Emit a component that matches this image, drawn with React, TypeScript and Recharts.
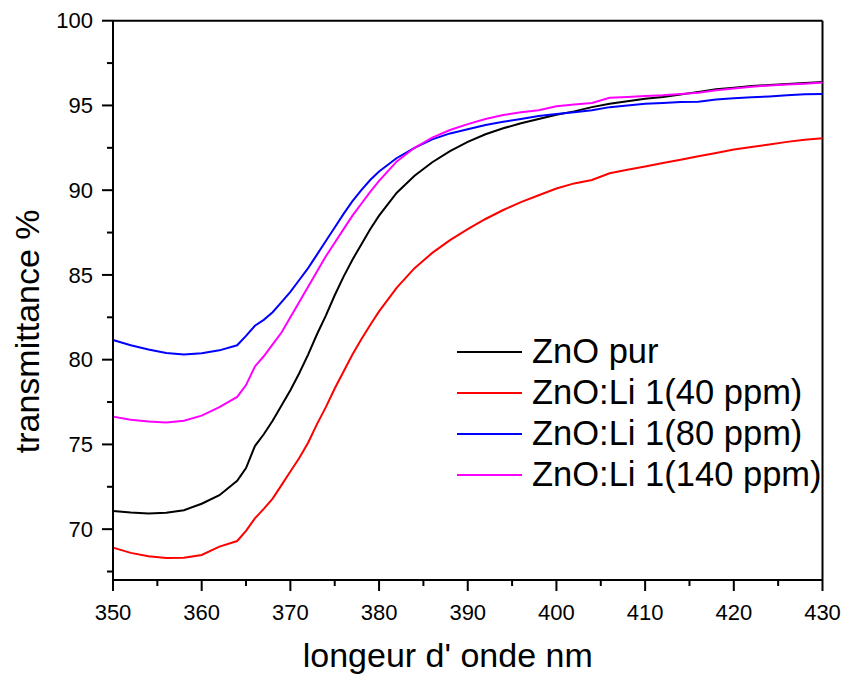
import { LineChart, Line, XAxis, YAxis, ReferenceLine, Label } from 'recharts';

const FONT = '"Liberation Sans", Arial, Helvetica, sans-serif';

// wavelength (nm)
const wavelengths = [
  350, 352, 354, 356, 358, 360, 362, 364, 365, 366, 367, 368, 369, 370, 371, 372, 373, 374, 375,
  376, 377, 378, 379, 380, 382, 384, 386, 388, 390, 392, 394, 396, 398, 400, 402, 404, 406, 408,
  410, 412, 414, 416, 418, 420, 422, 424, 426, 428, 430,
];

// transmittance %
const znoPur = [
  71.07, 70.98, 70.92, 70.97, 71.12, 71.5, 72.0, 72.85, 73.6, 74.9, 75.6, 76.4, 77.3, 78.2, 79.2,
  80.3, 81.5, 82.6, 83.8, 84.9, 85.9, 86.8, 87.7, 88.5, 89.85, 90.85, 91.65, 92.3, 92.85, 93.3, 93.65,
  93.95, 94.2, 94.45, 94.65, 94.9, 95.1, 95.25, 95.4, 95.5, 95.65, 95.8, 95.95, 96.05, 96.15, 96.2,
  96.27, 96.33, 96.38,
];

const li40 = [
  68.91, 68.6, 68.4, 68.3, 68.32, 68.48, 68.97, 69.3, 69.9, 70.64, 71.2, 71.8, 72.6, 73.4, 74.2,
  75.1, 76.2, 77.2, 78.3, 79.3, 80.3, 81.2, 82.05, 82.85, 84.25, 85.4, 86.3, 87.05, 87.7, 88.3, 88.83,
  89.3, 89.7, 90.1, 90.4, 90.6, 91.0, 91.2, 91.4, 91.6, 91.8, 92.0, 92.2, 92.4, 92.55, 92.7, 92.85,
  92.98, 93.06,
];

const li80 = [
  81.16, 80.85, 80.6, 80.4, 80.3, 80.38, 80.55, 80.85, 81.4, 82.0, 82.35, 82.8, 83.4, 84.0, 84.7,
  85.4, 86.2, 87.0, 87.8, 88.6, 89.35, 90.0, 90.6, 91.1, 91.9, 92.5, 93.0, 93.35, 93.6, 93.85, 94.04,
  94.2, 94.38, 94.5, 94.6, 94.72, 94.9, 95.0, 95.1, 95.15, 95.2, 95.22, 95.35, 95.42, 95.48, 95.53,
  95.6, 95.66, 95.68,
];

const li140 = [
  76.64, 76.45, 76.35, 76.3, 76.4, 76.7, 77.2, 77.8, 78.5, 79.6, 80.2, 80.9, 81.6, 82.5, 83.4, 84.3,
  85.2, 86.1, 86.9, 87.7, 88.5, 89.2, 89.9, 90.55, 91.7, 92.5, 93.1, 93.55, 93.9, 94.2, 94.44, 94.6,
  94.72, 94.95, 95.05, 95.15, 95.45, 95.5, 95.55, 95.6, 95.68, 95.75, 95.9, 96.0, 96.1, 96.18, 96.23,
  96.28, 96.35,
];

const xTicks = [350, 355, 360, 365, 370, 375, 380, 385, 390, 395, 400, 405, 410, 415, 420, 425, 430];
const yTicks = [67.5, 70, 72.5, 75, 77.5, 80, 82.5, 85, 87.5, 90, 92.5, 95, 97.5, 100];

const series = [
  { key: 'zno', name: 'ZnO pur', color: '#000000' },
  { key: 'li40', name: 'ZnO:Li 1(40 ppm)', color: '#ff0000' },
  { key: 'li80', name: 'ZnO:Li 1(80 ppm)', color: '#0000ff' },
  { key: 'li140', name: 'ZnO:Li 1(140 ppm)', color: '#ff00ff' },
];

const data = wavelengths.map((w, i) => ({
  w,
  zno: znoPur[i],
  li40: li40[i],
  li80: li80[i],
  li140: li140[i],
}));

const XTick = ({ x, y, payload }: any) => {
  const major = payload.value % 10 === 0;
  return (
    <g>
      <line x1={x} x2={x} y1={y} y2={y + (major ? 11 : 6)} stroke="#000" strokeWidth={2} />
      {major && (
        <text x={x} y={y + 40} textAnchor="middle" fontSize={22} fontFamily={FONT} fill="#000">
          {payload.value}
        </text>
      )}
    </g>
  );
};

const YTick = ({ x, y, payload }: any) => {
  const major = payload.value % 5 === 0;
  return (
    <g>
      <line x1={x} x2={x - (major ? 11 : 6)} y1={y} y2={y} stroke="#000" strokeWidth={2} />
      {major && (
        <text x={x - 20} y={y} dy="0.35em" textAnchor="end" fontSize={22} fontFamily={FONT} fill="#000">
          {payload.value}
        </text>
      )}
    </g>
  );
};

// fixed to the page corner so the body margin does not push the chart into a scrollbar
const App = () => {
  return (
    <div style={{ position: 'fixed', left: 0, top: 0, width: 844, height: 677, fontFamily: FONT, background: '#fff' }}>
      <LineChart
        width={844}
        height={677}
        data={data}
        margin={{ top: 20.7, right: 21.5, bottom: 0, left: 53 }}
      >
        <XAxis
          dataKey="w"
          type="number"
          domain={[350, 430]}
          ticks={xTicks}
          tick={<XTick />}
          tickLine={false}
          tickSize={0}
          tickMargin={0}
          height={97}
          axisLine={{ stroke: '#000', strokeWidth: 2 }}
          interval={0}
        >
          <Label
            content={(props: any) => {
              const vb = props.viewBox || { x: 113, y: 580, width: 709.5, height: 97 };
              return (
                <text
                  x={vb.x + vb.width / 2 - 20}
                  y={vb.y + 87}
                  textAnchor="middle"
                  fontSize={34}
                  fontFamily={FONT}
                  fill="#000"
                >
                  longeur d' onde nm
                </text>
              );
            }}
          />
        </XAxis>
        <YAxis
          type="number"
          domain={[67, 100]}
          ticks={yTicks}
          tick={<YTick />}
          tickLine={false}
          tickSize={0}
          tickMargin={0}
          width={60}
          axisLine={{ stroke: '#000', strokeWidth: 2 }}
          interval={0}
          allowDataOverflow
        >
          <Label
            content={(props: any) => {
              const vb = props.viewBox || { x: 53, y: 20.7, width: 60, height: 559.3 };
              const cx = vb.x - 26;
              const cy = vb.y + vb.height / 2 + 31;
              return (
                <text
                  x={cx}
                  y={cy}
                  transform={`rotate(-90 ${cx} ${cy})`}
                  textAnchor="middle"
                  dominantBaseline="central"
                  fontSize={34}
                  fontFamily={FONT}
                  fill="#000"
                >
                  transmittance %
                </text>
              );
            }}
          />
        </YAxis>
        <ReferenceLine y={100} stroke="#000" strokeWidth={2} />
        <ReferenceLine x={430} stroke="#000" strokeWidth={2} />
        {series.map((s) => (
          <Line
            key={s.key}
            type="linear"
            dataKey={s.key}
            name={s.name}
            stroke={s.color}
            strokeWidth={2}
            dot={false}
            isAnimationActive={false}
          />
        ))}
      </LineChart>
      <div style={{ position: 'absolute', left: 457, top: 331 }}>
        {series.map((s) => (
          <div key={s.key} style={{ display: 'flex', alignItems: 'center', height: 41 }}>
            <div style={{ width: 65, height: 2, background: s.color }} />
            <span style={{ marginLeft: 10, fontSize: 34.5, lineHeight: '41px', color: '#000', whiteSpace: 'nowrap' }}>
              {s.name}
            </span>
          </div>
        ))}
      </div>
    </div>
  );
};

export default App;
